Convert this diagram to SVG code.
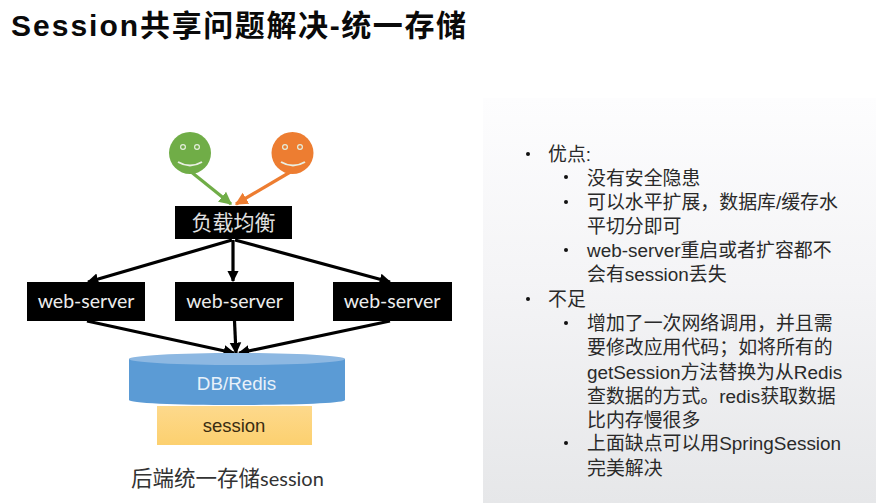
<svg xmlns="http://www.w3.org/2000/svg" width="876" height="503" viewBox="0 0 876 503">
<defs>
<linearGradient id="panel" x1="0" y1="0" x2="0" y2="1"><stop offset="0" stop-color="#fdfdfe"/><stop offset="0.45" stop-color="#f4f4f6"/><stop offset="1" stop-color="#e6e7e9"/></linearGradient>
<linearGradient id="note" x1="0" y1="0" x2="0" y2="1"><stop offset="0" stop-color="#fdd98c"/><stop offset="1" stop-color="#fcd06f"/></linearGradient>
<marker id="ah" viewBox="0 0 10 10" refX="9" refY="5" markerWidth="3.6" markerHeight="4" orient="auto" markerUnits="strokeWidth"><path d="M0 0L10 5L0 10z" fill="#000"/></marker>
<marker id="ag" viewBox="0 0 10 10" refX="9" refY="5" markerWidth="4" markerHeight="4.4" orient="auto" markerUnits="strokeWidth"><path d="M0 0L10 5L0 10z" fill="#70ad47"/></marker>
<marker id="ao" viewBox="0 0 10 10" refX="9" refY="5" markerWidth="4" markerHeight="4.4" orient="auto" markerUnits="strokeWidth"><path d="M0 0L10 5L0 10z" fill="#ed7d31"/></marker>
</defs>
<style>
text{font-family:"Liberation Sans","Noto Sans CJK SC",sans-serif}
.box{fill:#000}
.boxtext{fill:#ececec;font-size:19.500px;text-anchor:middle;font-family:Lato,"Noto Sans CJK SC",sans-serif}
.wire{stroke:#000;stroke-width:3.2;fill:none;marker-end:url(#ah)}
.body{fill:#2a2a2a;font-size:18.9px}
.bul{fill:#111}
.eye{fill:none;stroke:#e4eedd;stroke-width:1.2}
.smile{fill:none;stroke:#e9efe2;stroke-width:2}
</style>
<rect width="876" height="503" fill="#ffffff"/>
<rect x="483" y="98" width="393" height="405" fill="url(#panel)"/>
<text x="11" y="36" font-size="30" font-weight="700" fill="#0a0a0a" letter-spacing="2">Session<tspan letter-spacing="1.6">共享问题解决-统一存储</tspan></text>

<g id="connectors">
<path d="M190 171L231 204" stroke="#70ad47" stroke-width="3.2" fill="none" marker-end="url(#ag)"/>
<path d="M292 171L236 204" stroke="#ed7d31" stroke-width="3.2" fill="none" marker-end="url(#ao)"/>
<path class="wire" d="M232 240L88 282"/>
<path class="wire" d="M233 240L233 281"/>
<path class="wire" d="M235 240L390 282"/>
<path class="wire" d="M87 321L234 353"/>
<path class="wire" d="M234.500 321L236 353"/>
<path class="wire" d="M390 321L239 353"/>
</g>

<g id="user-green">
<circle cx="190" cy="153" r="21" fill="#70ad47"/>
<circle cx="183" cy="147" r="2.4" class="eye"/><circle cx="197" cy="147" r="2.4" class="eye"/>
<path class="smile" d="M178 162Q190 169 202 162"/>
</g>
<g id="user-orange">
<circle cx="292.500" cy="153" r="21" fill="#ed7d31"/>
<circle cx="285" cy="147" r="2.4" class="eye"/><circle cx="300" cy="147" r="2.4" class="eye"/>
<path class="smile" d="M281 162Q293 169 305 162"/>
</g>
<g id="load-balancer">
<rect class="box" x="175" y="206" width="117" height="33"/>
<text x="233.500" y="230" font-size="21" fill="#e0e0e0" text-anchor="middle" font-family="Noto Sans CJK SC,sans-serif" font-weight="400">负载均衡</text>
</g>
<g id="web-server-1">
<rect class="box" x="27" y="282" width="118" height="39"/>
<text class="boxtext" x="86" y="308">web-server</text>
</g>
<g id="web-server-2">
<rect class="box" x="175" y="282" width="119" height="39"/>
<text class="boxtext" x="234.500" y="308">web-server</text>
</g>
<g id="web-server-3">
<rect class="box" x="333" y="282" width="119" height="39"/>
<text class="boxtext" x="392" y="308">web-server</text>
</g>
<g id="store">
<path d="M129 359V400C129 403 174 405 237 405S345 403 345 400V359Z" fill="#5b9bd5"/>
<ellipse cx="237" cy="359" rx="108" ry="6" fill="#8db8e2"/>
<text x="236.500" y="390" font-size="18.800" fill="#e8f1fa" text-anchor="middle" font-family="Lato,sans-serif">DB/Redis</text>
</g>
<g id="session">
<rect x="157" y="406" width="155" height="39" fill="url(#note)"/>
<text x="234" y="432" font-size="18.500" fill="#3a2c10" text-anchor="middle" font-family="Lato,sans-serif">session</text>
</g>
<text x="131" y="486" font-size="21.500" fill="#333" font-family="Noto Sans CJK SC,sans-serif" font-weight="400">后端统一存储<tspan font-family="Lato,sans-serif" font-size="20">session</tspan></text>

<g id="notes">
<circle class="bul" cx="528" cy="154" r="2"/>
<text class="body" x="548" y="161">优点:</text>
<circle class="bul" cx="566" cy="177" r="2"/>
<text class="body" x="587" y="185">没有安全隐患</text>
<circle class="bul" cx="566" cy="202" r="2"/>
<text class="body" x="587" y="209">可以水平扩展，数据库/缓存水</text>
<text class="body" x="587" y="233">平切分即可</text>
<circle class="bul" cx="566" cy="250" r="2"/>
<text class="body" x="587" y="257">web-server重启或者扩容都不</text>
<text class="body" x="587" y="281">会有session丢失</text>
<circle class="bul" cx="528" cy="299" r="2"/>
<text class="body" x="548" y="306">不足</text>
<circle class="bul" cx="566" cy="323" r="2"/>
<text class="body" x="587" y="330">增加了一次网络调用，并且需</text>
<text class="body" x="587" y="354">要修改应用代码；如将所有的</text>
<text class="body" x="587" y="379">getSession方法替换为从Redis</text>
<text class="body" x="587" y="403">查数据的方式。redis获取数据</text>
<text class="body" x="587" y="427">比内存慢很多</text>
<circle class="bul" cx="566" cy="443" r="2"/>
<text class="body" x="587" y="450">上面缺点可以用SpringSession</text>
<text class="body" x="587" y="475">完美解决</text>
</g>
</svg>
